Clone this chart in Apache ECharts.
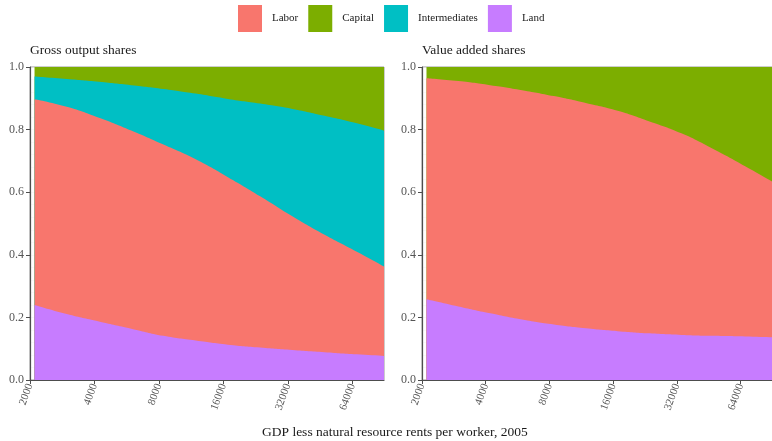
<!DOCTYPE html>
<html>
<head>
<meta charset="utf-8">
<script src="https://cdn.jsdelivr.net/npm/echarts@6/dist/echarts.min.js"></script>
<style>
    html, body { margin: 0; padding: 0; background: #fff; }
    #chart { width: 772px; height: 441px; }
</style>
</head>
<body>
<div id="chart"></div>
<script>
    // GDP per worker (2005) at which the shares were read (half-doubling steps)
    var gdp = [2100, 2970, 4200, 5940, 8400, 11880, 16800, 23760, 33600, 47520, 67200, 95040];
    var xTicks = [2000, 4000, 8000, 16000, 32000, 64000];
    var yTicks = [0, 0.2, 0.4, 0.6, 0.8, 1.0];

    // gross output shares (left)
    var goLand = [0.24, 0.211, 0.187, 0.164, 0.141, 0.126, 0.113, 0.104, 0.096, 0.089, 0.082, 0.076];
    var goLabor = [0.657, 0.662, 0.651, 0.633, 0.611, 0.579, 0.535, 0.483, 0.427, 0.375, 0.328, 0.278];
    var goInter = [0.073, 0.089, 0.115, 0.145, 0.178, 0.21, 0.25, 0.296, 0.343, 0.38, 0.41, 0.438];
    var goCapital = [0.03, 0.038, 0.047, 0.058, 0.07, 0.085, 0.102, 0.117, 0.134, 0.156, 0.18, 0.208];

    // value added shares (right)
    var vaLand = [0.258, 0.235, 0.213, 0.193, 0.177, 0.165, 0.156, 0.149, 0.144, 0.141, 0.139, 0.136];
    var vaLabor = [0.706, 0.72, 0.729, 0.733, 0.73, 0.72, 0.704, 0.677, 0.644, 0.597, 0.544, 0.489];
    var vaCapital = [0.036, 0.045, 0.058, 0.074, 0.093, 0.115, 0.14, 0.174, 0.212, 0.262, 0.317, 0.375];

    var colors = {Labor: '#F8766D', Capital: '#7CAE00', Intermediates: '#00BFC4', Land: '#C77CFF'};
    var font = "'Liberation Serif', serif";
    var xMin = 2000, xMax = 90000;

    // x axis is log2 scale, counted in doublings from 2000
    function lx(v) { return Math.log(v / xMin) / Math.LN2; }

    // running sums of the layers, bottom first
    function cumulate(layers) {
        var out = [], run = gdp.map(function () { return 0; });
        layers.forEach(function (arr) {
            run = run.map(function (s, i) { return s + arr[i]; });
            out.push(run.slice());
        });
        return out;
    }

    function xAxis(idx) {
        return {
            type: 'value', gridIndex: idx,
            min: 0, max: lx(xMax), interval: 1,
            axisLine: {show: true, onZero: false, lineStyle: {color: '#4d4d4d', width: 1.2}},
            axisTick: {show: true, length: 4, lineStyle: {color: '#4d4d4d'}},
            axisLabel: {
                rotate: 70, margin: 4, showMaxLabel: false,
                color: '#555', fontSize: 11, fontFamily: font,
                formatter: function (v) {
                    var t = Math.round(xMin * Math.pow(2, v));
                    return xTicks.indexOf(t) >= 0 ? String(t) : '';
                }
            },
            splitLine: {show: false}
        };
    }

    function yAxis(idx) {
        return {
            type: 'value', gridIndex: idx,
            min: yTicks[0], max: yTicks[yTicks.length - 1], interval: 0.2,
            axisLine: {show: true, onZero: false, lineStyle: {color: '#4d4d4d', width: 1.2}},
            axisTick: {show: true, length: 4, lineStyle: {color: '#4d4d4d'}},
            axisLabel: {
                margin: 6, color: '#555', fontSize: 12, fontFamily: font,
                formatter: function (v) { return v.toFixed(1); }
            },
            splitLine: {show: true, lineStyle: {color: '#f2f2f2', width: 0.5}},
            minorTick: {show: false},
            minorSplitLine: {show: true, lineStyle: {color: '#f5f5f5', width: 0.5}}
        };
    }

    function area(name, tops, idx) {
        return {
            name: name, type: 'line',
            xAxisIndex: idx, yAxisIndex: idx,
            smooth: true, symbol: 'none', clip: true,
            lineStyle: {width: 0},
            areaStyle: {color: colors[name], opacity: 1},
            itemStyle: {color: colors[name]},
            data: tops.map(function (v, i) { return [lx(gdp[i]), v]; })
        };
    }

    // tallest band first so lower ones paint over it
    var goCum = cumulate([goLand, goLabor, goInter, goCapital]);
    var vaCum = cumulate([vaLand, vaLabor, vaCapital]);

    var titleStyle = {fontFamily: font, fontSize: 13.5, fontWeight: 'normal', color: '#1a1a1a'};

    var option = {
        animation: false,
        backgroundColor: '#fff',
        legend: {
            data: ['Labor', 'Capital', 'Intermediates', 'Land'],
            top: 5, left: 238, padding: 0,
            icon: 'rect', itemWidth: 24, itemHeight: 27, itemGap: 10,
            textStyle: {fontFamily: font, fontSize: 11, color: '#1a1a1a', padding: [0, 0, 0, 5]}
        },
        title: [
            {text: 'Gross output shares', left: 30, top: 43, padding: 0, textStyle: titleStyle},
            {text: 'Value added shares', left: 422, top: 43, padding: 0, textStyle: titleStyle},
            {text: 'GDP less natural resource rents per worker, 2005', left: 262, top: 425, padding: 0, textStyle: titleStyle}
        ],
        grid: [
            {left: 30, top: 67, width: 354, height: 313, show: true, borderColor: '#9a9a9a', borderWidth: 1, backgroundColor: '#fff'},
            {left: 422, top: 67, width: 354, height: 313, show: true, borderColor: '#9a9a9a', borderWidth: 1, backgroundColor: '#fff'}
        ],
        xAxis: [xAxis(0), xAxis(1)],
        yAxis: [yAxis(0), yAxis(1)],
        series: [
            area('Capital', goCum[3], 0),
            area('Intermediates', goCum[2], 0),
            area('Labor', goCum[1], 0),
            area('Land', goCum[0], 0),
            area('Capital', vaCum[2], 1),
            area('Labor', vaCum[1], 1),
            area('Land', vaCum[0], 1)
        ]
    };

    var chartObj = echarts.init(document.getElementById('chart'));
    chartObj.setOption(option);
</script>
</body>
</html>
